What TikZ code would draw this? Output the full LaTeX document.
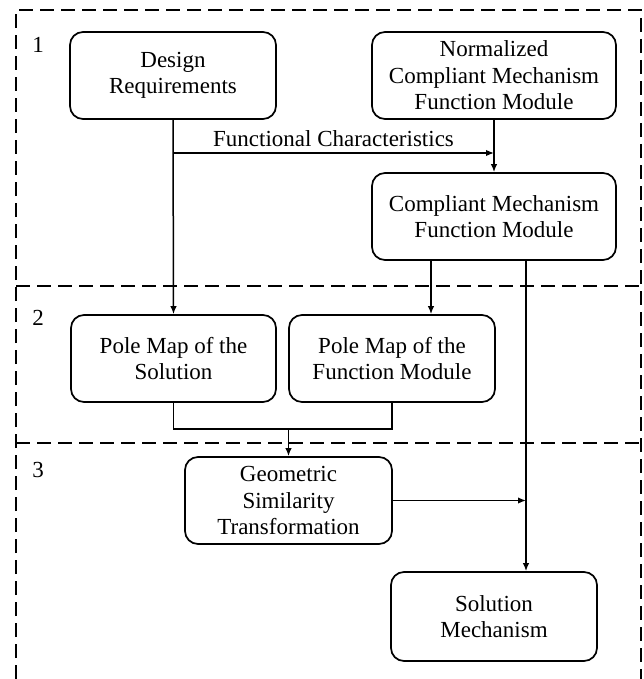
\documentclass[tikz,border=0pt]{standalone}
\usepackage{fontspec}
\setmainfont{Liberation Serif}
\usetikzlibrary{arrows.meta,calc}
\begin{document}
\begin{tikzpicture}[x=1pt,y=-1pt,
  box/.style={draw, line width=1.7pt, rounded corners=13pt, align=center, inner sep=0pt,
    font=\fontsize{23}{26.5}\selectfont},
  arr/.style={line width=1.5pt, -{Latex[length=8pt,width=6.5pt]}},
  ln/.style={line width=1.5pt},
  frame/.style={line width=1.6pt, dash pattern=on 14pt off 7pt},
  lbl/.style={font=\fontsize{23}{26.5}\selectfont, inner sep=0pt}]
\useasboundingbox (0,0) rectangle (644,679);
% dashed frame
\draw[frame] (16,679) -- (16,10) -- (641,10) -- (641,679);
\draw[frame] (16,286) -- (641,286);
\draw[frame] (16,443) -- (641,443);
% section numbers
\node[lbl] (n1) at (38,45) {1};
\node[lbl] (n2) at (38,318) {2};
\node[lbl] (n3) at (38,470) {3};
% boxes
\node[box, minimum width=206pt, minimum height=87pt] (DR) at (173,75.5) {Design\\Requirements};
\node[box, minimum width=244pt, minimum height=87pt] (NM) at (494,75.5) {Normalized\\Compliant Mechanism\\Function Module};
\node[box, minimum width=244pt, minimum height=87pt] (CM) at (494,216.5) {Compliant Mechanism\\Function Module};
\node[box, minimum width=205pt, minimum height=87pt] (PS) at (173.5,358.5) {Pole Map of the\\Solution};
\node[box, minimum width=206pt, minimum height=87pt] (PF) at (392,358.5) {Pole Map of the\\Function Module};
\node[box, minimum width=207pt, minimum height=87pt] (GS) at (288.5,500.5) {Geometric\\Similarity\\Transformation};
\node[box, minimum width=206pt, minimum height=89pt] (SM) at (494,616.5) {Solution\\Mechanism};
% helper coordinates
\coordinate (fc) at (0,153);
\coordinate (xpf) at (431,0);
\coordinate (xtr) at (526,0);
\coordinate (mg) at (0,429);
% connectors
\draw[arr] (DR.south) -- (PS.north);
\draw[arr] (DR.south |- fc) -- (NM.south |- fc) coordinate (fcend)
  node[lbl, midway, above=6pt] (fclabel) {Functional Characteristics};
\draw[arr] (NM.south) -- (CM.north);
\draw[arr] (CM.south -| xpf) -- (PF.north -| xpf);
\draw[arr] (CM.south -| xtr) -- (SM.north -| xtr);
\draw[arr] (GS.east) -- (GS.east -| xtr);
\draw[ln] (PS.south) -- (PS.south |- mg) -- (PF.south |- mg) -- (PF.south);
\draw[arr] (GS.north |- mg) -- (GS.north);
\end{tikzpicture}
\end{document}
